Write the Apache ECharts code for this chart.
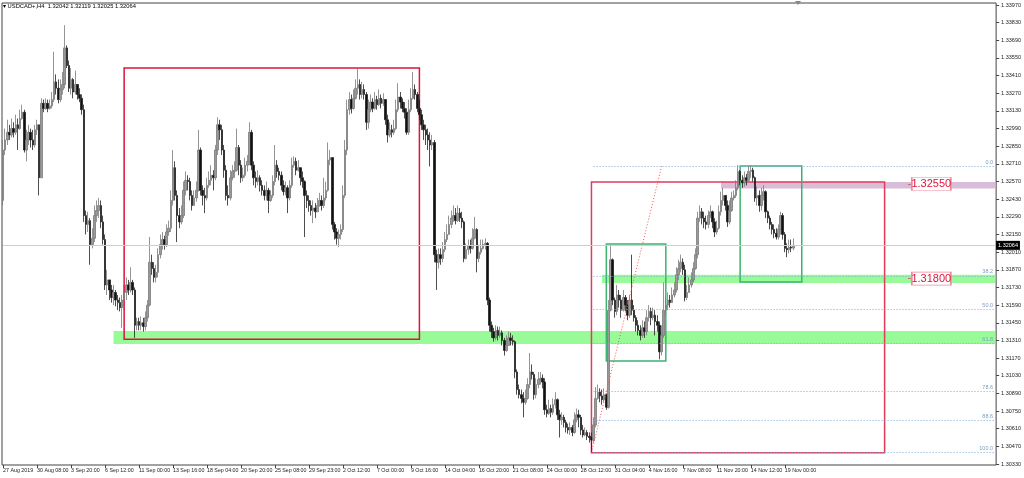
<!DOCTYPE html>
<html><head><meta charset="utf-8">
<script src="https://cdn.jsdelivr.net/npm/echarts@6/dist/echarts.min.js"></script>
<style>html,body{margin:0;padding:0;background:#fff}#c{width:1024px;height:478px}</style>
</head><body><div id="c"></div>
<script>
// ---- data (prices in 1e-4 units) ----
const symbolName = 'USDCAD+,H4';
const firstOpen = 13242;
const closes = [
13282,13290,13296,13294,13299,13296,13302,13299,13307,13312,
13282,13290,13296,13290,13286,13298,13302,13260,13319,13315,
13319,13315,13317,13322,13336,13331,13322,13330,13334,13363,
13349,13331,13338,13328,13334,13326,13323,13314,13230,13223,
13226,13207,13212,13230,13234,13238,13225,13211,13175,13179,
13171,13165,13169,13163,13161,13157,13163,13169,13175,13171,
13177,13171,13143,13146,13143,13145,13142,13149,13159,13193,
13188,13181,13185,13199,13207,13211,13207,13217,13220,13242,
13268,13246,13230,13225,13230,13250,13258,13257,13246,13238,
13244,13250,13282,13250,13246,13244,13254,13258,13262,13260,
13282,13302,13298,13282,13266,13246,13244,13260,13265,13266,
13284,13270,13260,13262,13270,13273,13296,13270,13260,13257,
13260,13254,13250,13246,13250,13242,13246,13257,13270,13265,
13262,13254,13249,13252,13244,13254,13270,13273,13266,13268,
13260,13257,13246,13242,13238,13234,13236,13233,13238,13242,
13238,13244,13250,13274,13276,13223,13217,13212,13215,13219,
13246,13282,13314,13322,13315,13323,13331,13334,13326,13330,
13326,13304,13314,13320,13315,13322,13318,13323,13319,13322,
13306,13294,13298,13296,13299,13314,13324,13320,13315,13312,
13296,13314,13323,13330,13326,13315,13310,13302,13298,13294,
13290,13286,13288,13199,13193,13199,13196,13203,13211,13215,
13223,13228,13230,13226,13232,13228,13225,13196,13203,13206,
13204,13212,13219,13196,13201,13204,13207,13208,13163,13143,
13138,13133,13139,13135,13137,13131,13123,13127,13133,13131,
13130,13106,13092,13088,13085,13082,13085,13096,13106,13104,
13088,13096,13100,13101,13098,13076,13073,13077,13074,13080,
13084,13072,13068,13070,13066,13062,13060,13062,13058,13068,
13072,13070,13060,13056,13058,13055,13054,13052,13064,13085,
13090,13087,13084,13088,13078,13155,13195,13163,13154,13167,
13163,13155,13165,13159,13151,13163,13155,13149,13143,13139,
13135,13141,13138,13149,13154,13149,13151,13146,13143,13122,
13135,13155,13159,13163,13161,13167,13171,13183,13188,13193,
13187,13165,13169,13175,13179,13188,13199,13228,13233,13228,
13225,13223,13230,13233,13225,13217,13220,13233,13242,13246,
13238,13225,13234,13244,13246,13252,13265,13258,13256,13260,
13258,13265,13266,13260,13244,13246,13238,13246,13249,13233,
13228,13223,13219,13216,13213,13219,13230,13215,13204,13203,
13205,13204.2,13206.4];
const highs = [
13290,13299,13306,13302,13307,13304,13310,13307,13314,13318,
13314,13298,13302,13299,13298,13302,13306,13299,13323,13322,
13323,13322,13322,13328,13360,13342,13338,13338,13344,13381,
13365,13353,13347,13339,13345,13334,13331,13326,13318,13234,
13233,13228,13220,13238,13242,13244,13242,13230,13215,13187,
13179,13175,13175,13171,13167,13165,13167,13175,13181,13179,
13189,13179,13173,13149,13149,13150,13149,13154,13163,13213,
13199,13193,13191,13204,13215,13217,13214,13223,13226,13250,
13282,13273,13250,13236,13238,13257,13265,13262,13260,13250,
13250,13257,13298,13284,13254,13252,13260,13265,13270,13266,
13286,13308,13306,13302,13286,13270,13254,13266,13270,13273,
13299,13286,13274,13268,13276,13278,13304,13298,13273,13265,
13266,13262,13258,13254,13257,13252,13250,13262,13286,13274,
13268,13265,13258,13257,13254,13258,13276,13277,13276,13274,
13268,13265,13258,13250,13246,13242,13242,13240,13244,13248,
13246,13260,13257,13288,13282,13276,13225,13220,13219,13223,
13254,13290,13322,13328,13326,13330,13338,13347,13338,13336,
13334,13328,13322,13326,13323,13328,13325,13330,13326,13327,
13322,13310,13304,13302,13306,13322,13335,13328,13323,13320,
13315,13322,13331,13344,13334,13328,13322,13314,13306,13302,
13299,13296,13294,13290,13203,13204,13204,13209,13217,13223,
13230,13234,13238,13236,13238,13236,13233,13226,13208,13211,
13211,13220,13229,13220,13207,13211,13211,13212,13209,13165,
13146,13141,13143,13142,13142,13139,13133,13135,13138,13137,
13135,13131,13108,13096,13092,13090,13092,13101,13121,13112,
13106,13101,13106,13106,13104,13101,13080,13084,13080,13085,
13090,13085,13076,13074,13072,13068,13065,13066,13064,13074,
13077,13076,13072,13064,13062,13060,13058,13058,13070,13094,
13096,13093,13092,13093,13089,13163,13207,13196,13165,13175,
13171,13167,13171,13167,13163,13167,13199,13159,13151,13147,
13143,13147,13146,13155,13159,13157,13157,13155,13151,13146,
13143,13177,13165,13169,13167,13173,13177,13189,13195,13199,
13196,13191,13175,13181,13185,13193,13204,13233,13238,13236,
13233,13230,13234,13238,13234,13228,13226,13238,13249,13252,
13246,13242,13242,13249,13250,13258,13270,13266,13262,13265,
13263,13269,13270,13268,13261,13253,13250,13252,13254,13250,
13234,13230,13225,13223,13220,13223,13233,13232,13217,13208,
13211,13211,13211.9];
const lows = [
13238,13278,13286,13290,13292,13292,13294,13282,13298,13306,
13280,13273,13286,13284,13282,13284,13294,13246,13260,13312,
13314,13312,13314,13315,13320,13326,13319,13320,13326,13331,
13347,13328,13326,13323,13326,13322,13320,13310,13225,13215,
13217,13191,13204,13209,13225,13228,13220,13207,13171,13167,
13163,13161,13159,13158,13155,13154,13141,13155,13163,13167,
13169,13167,13133,13139,13139,13139,13138,13139,13146,13158,
13183,13177,13177,13181,13196,13203,13203,13205,13214,13217,
13238,13242,13209,13220,13223,13228,13246,13250,13242,13234,
13238,13241,13249,13246,13238,13232,13242,13252,13254,13250,
13258,13278,13290,13278,13260,13242,13238,13242,13258,13260,
13265,13262,13256,13257,13260,13265,13270,13266,13254,13252,
13254,13249,13246,13242,13242,13232,13241,13244,13254,13260,
13258,13250,13246,13246,13232,13242,13252,13268,13262,13265,
13254,13252,13213,13236,13233,13230,13224,13228,13233,13237,
13234,13236,13242,13249,13270,13219,13211,13207,13205,13211,
13217,13244,13278,13310,13311,13314,13322,13326,13322,13323,
13322,13298,13299,13312,13312,13314,13314,13317,13315,13317,
13302,13288,13292,13292,13294,13298,13312,13315,13312,13307,
13294,13294,13312,13322,13322,13312,13306,13298,13290,13286,
13282,13269,13282,13193,13171,13188,13191,13193,13201,13209,
13215,13220,13225,13223,13225,13225,13220,13193,13195,13199,
13200,13203,13211,13185,13193,13199,13203,13203,13159,13138,
13133,13130,13131,13131,13133,13127,13119,13122,13127,13127,
13127,13101,13088,13085,13081,13070,13080,13084,13093,13100,
13084,13085,13093,13096,13093,13072,13070,13072,13070,13072,
13077,13068,13054,13064,13062,13058,13057,13056,13055,13057,
13066,13062,13056,13054,13055,13052,13050,13042,13050,13062,
13084,13082,13080,13082,13076,13077,13154,13159,13149,13151,
13157,13149,13154,13154,13147,13149,13151,13146,13138,13135,
13131,13133,13133,13135,13146,13143,13147,13135,13138,13116,
13119,13133,13151,13155,13157,13162,13165,13169,13179,13185,
13183,13162,13163,13169,13173,13177,13187,13196,13225,13223,
13220,13219,13220,13228,13220,13213,13215,13219,13230,13238,
13234,13221,13223,13233,13242,13244,13250,13254,13252,13253,
13254,13257,13260,13257,13241,13238,13233,13234,13242,13228,
13224,13219,13215,13212,13211,13211,13215,13211,13201,13197,
13200,13201,13202.5];
const timeLabels = ['27 Aug 2019','30 Aug 08:00','3 Sep 20:00','6 Sep 12:00','11 Sep 00:00','13 Sep 16:00',
 '18 Sep 04:00','20 Sep 20:00','25 Sep 08:00','29 Sep 23:00','2 Oct 12:00','7 Oct 00:00','9 Oct 16:00',
 '14 Oct 04:00','16 Oct 20:00','21 Oct 08:00','24 Oct 00:00','28 Oct 12:00','31 Oct 04:00','4 Nov 16:00',
 '7 Nov 08:00','11 Nov 20:00','14 Nov 12:00','19 Nov 00:00'];
const barsPerLabel = 16;
const emptyBars = 95;
const yTicks = [1.30330,1.30470,1.30610,1.30750,1.30890,1.31030,1.31170,1.31310,1.31450,1.31590,1.31730,
 1.31870,1.32010,1.32150,1.32290,1.32430,1.32570,1.32710,1.32850,1.32990,1.33130,1.33270,1.33410,1.33550,
 1.33690,1.33830,1.33970];
const fibHigh = 1.32690, fibLow = 1.30420;
const fibLevels = [0, 38.2, 50, 61.8, 78.6, 88.6, 100];
const levelLabels = [1.32550, 1.31800];

// ---- build ----
const nCat = closes.length + emptyBars;
const lastIdx = nCat - 1;
const categories = Array.from({length: nCat}, (_, i) => String(i));
const ohlc = closes.map((c, i) => {
  const o = i === 0 ? firstOpen : closes[i - 1];
  const h = Math.max(highs[i], o, c), l = Math.min(lows[i], o, c);
  return [o / 1e4, c / 1e4, l / 1e4, h / 1e4];
});
const last = ohlc[ohlc.length - 1];
const lastClose = last[1];

const CRIMSON = '#dc143c', SEAGREEN = '#3cb371', PALEGREEN = '#98fb98';
const filled = (x0, x1, yTop, yBot, color) => [
  {coord: [x0, yTop], itemStyle: {color: color, borderWidth: 0}}, {coord: [x1, yBot]}];
const outline = (x0, x1, yTop, yBot, color) => [
  {coord: [x0, yTop], itemStyle: {color: 'rgba(0,0,0,0)', borderColor: color, borderWidth: 1.5}}, {coord: [x1, yBot]}];

const areas = [
  filled(52, lastIdx, 1.31385, 1.31282, PALEGREEN),
  filled(282, lastIdx, 1.31830, 1.31766, PALEGREEN),
  filled(338, lastIdx, 1.32567, 1.32515, '#d8bcd8'),
  outline(57, 196, 1.33470, 1.31320, CRIMSON),
  outline(277, 415, 1.32567, 1.30420, '#e23a5a'),
  outline(284, 312, 1.32075, 1.31147, SEAGREEN),
  outline(347, 376, 1.32694, 1.31774, SEAGREEN)
];

const fibColor = '#7ea9d8';
const lines = [];
fibLevels.forEach(lv => {
  const p = fibHigh - (fibHigh - fibLow) * lv / 100;
  lines.push([
    {coord: [278, p], lineStyle: {color: fibColor, type: [1, 2], width: 1},
     label: {show: true, position: 'insideEndTop', formatter: lv.toFixed(1), color: '#7d9cc4', fontSize: 5.5, distance: [2, 1]}},
    {coord: [lastIdx, p]}]);
});
lines.push([{coord: [277, fibLow], lineStyle: {color: '#ff4d4d', type: [1, 2], width: 1}, label: {show: false}}, {coord: [310, fibHigh]}]);
levelLabels.forEach(p => {
  lines.push([{coord: [426, p], lineStyle: {color: '#c8707e', type: 'solid', width: 1}, label: {show: false}}, {coord: [428, p]}]);
});
lines.push([{coord: [0, lastClose], lineStyle: {color: '#cfcfcf', type: 'solid', width: 1},
  label: {show: true, position: 'end', formatter: lastClose.toFixed(5), backgroundColor: '#000', color: '#fff',
    fontSize: 5.5, padding: [2, 2, 1, 2], distance: 1, fontFamily: 'Liberation Sans'}}, {coord: [lastIdx, lastClose]}]);

const points = levelLabels.map(p => ({
  coord: [437, p], name: p.toFixed(5), symbol: 'rect', symbolSize: [39, 13],
  itemStyle: {color: '#fff', borderColor: '#ec8a9c', borderWidth: 1},
  label: {show: true, position: 'inside', formatter: p.toFixed(5), color: CRIMSON, fontSize: 11, fontFamily: 'Liberation Sans'}
}));

const showIdx = i => i % barsPerLabel === 0 && i / barsPerLabel < timeLabels.length;

const chart = echarts.init(document.getElementById('c'), null, {renderer: 'canvas'});
chart.setOption({
  animation: false,
  backgroundColor: '#fff',
  title: {
    text: '\u25BE ' + symbolName + '  ' + last[0].toFixed(5) + ' ' + last[3].toFixed(5) + ' ' + last[2].toFixed(5) + ' ' + last[1].toFixed(5),
    left: 3, top: 3, padding: 0,
    textStyle: {fontSize: 5.8, fontWeight: 'normal', color: '#000', fontFamily: 'Liberation Sans'}
  },
  grid: {left: 2, right: 26, top: 3, bottom: 13, show: true, borderColor: '#444', borderWidth: 1, backgroundColor: 'rgba(0,0,0,0)'},
  xAxis: {
    type: 'category', data: categories, boundaryGap: true,
    axisLine: {show: false},
    axisTick: {show: true, alignWithLabel: true, interval: (i) => showIdx(i), length: 3, lineStyle: {color: '#444'}},
    axisLabel: {interval: (i) => showIdx(i), formatter: (v) => timeLabels[Number(v) / barsPerLabel] || '',
      align: 'left', fontSize: 5.3, color: '#222', margin: 3, hideOverlap: false, fontFamily: 'Liberation Sans'},
    splitLine: {show: false}
  },
  yAxis: {
    type: 'value', position: 'right', min: 1.30322, max: 1.33986, scale: true,
    splitLine: {show: false}, axisLine: {show: false},
    axisTick: {show: true, customValues: yTicks, length: 3, lineStyle: {color: '#444'}},
    axisLabel: {customValues: yTicks, formatter: v => v.toFixed(5), fontSize: 5.5, color: '#222', margin: 5, fontFamily: 'Liberation Sans'}
  },
  graphic: [{type: 'polygon', shape: {points: [[795, 1], [801, 1], [798, 5]]}, style: {fill: '#888'}}],
  series: [{
    type: 'candlestick', data: ohlc, barWidth: 2, clip: false,
    itemStyle: {color: '#9a9a9a', borderColor: '#7a7a7a', color0: '#111', borderColor0: '#222', borderWidth: 0.8},
    markArea: {silent: true, z: 1, data: areas},
    markLine: {silent: true, symbol: ['none', 'none'], label: {show: false}, data: lines},
    markPoint: {silent: true, data: points}
  }]
});
</script></body></html>
